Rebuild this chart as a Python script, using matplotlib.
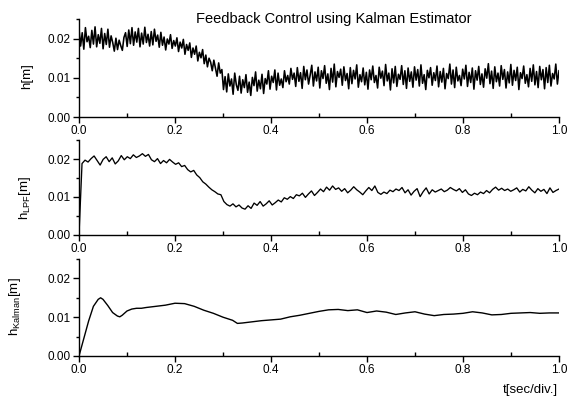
import numpy as np
import matplotlib
matplotlib.use('Agg')
import matplotlib.pyplot as plt
from matplotlib.ticker import MultipleLocator, FormatStrFormatter

plt.rcParams.update({'font.family': 'Liberation Sans', 'mathtext.fontset': 'custom',
                     'mathtext.rm': 'Liberation Sans', 'axes.linewidth': 1.0,
                     'xtick.labelsize': 8.5, 'ytick.labelsize': 8.5})

# measured height h (units of 1e-4 m), equally spaced on t in [0, 1]
h_raw = [224, 181, 215, 173, 228, 192, 206, 177, 221, 186, 230, 179, 210, 188, 226,
         174, 213, 185, 224, 178, 207, 190, 168, 201, 172, 196, 182, 170, 203, 215,
         180, 222, 187, 228, 183, 217, 191, 226, 179, 214, 186, 229, 190, 211, 181,
         218, 184, 224, 193, 209, 178, 216, 183, 204, 171, 199, 186, 210, 175, 195,
         181, 202, 167, 191, 176, 198, 160, 185, 170, 189, 152, 176, 160, 181, 143,
         165, 151, 172, 136, 158, 128, 150, 140, 118, 145, 125, 104, 138, 112, 121,
         70, 103, 64, 110, 79, 97, 58, 112, 82, 68, 104, 61, 95, 75, 108,
         63, 89, 55, 101, 80, 115, 66, 94, 72, 109, 60, 98, 84, 118, 71,
         104, 88, 120, 69, 112, 81, 97, 75, 118, 90, 106, 84, 124, 96, 112,
         78, 126, 91, 113, 73, 129, 95, 120, 84, 107, 132, 79, 115, 92, 127,
         74, 118, 98, 131, 86, 110, 70, 124, 89, 135, 77, 116, 101, 122, 81,
         128, 93, 111, 72, 126, 85, 119, 97, 133, 76, 108, 90, 125, 82, 114,
         71, 120, 95, 130, 88, 106, 74, 127, 99, 117, 80, 134, 92, 112, 69,
         123, 87, 129, 78, 109, 96, 131, 83, 118, 73, 125, 91, 115, 76, 128,
         94, 121, 79, 133, 86, 108, 70, 119, 100, 126, 81, 113, 93, 130, 77,
         116, 89, 124, 72, 111, 98, 135, 84, 120, 75, 127, 92, 106, 80, 122,
         97, 132, 78, 114, 88, 125, 71, 118, 94, 129, 83, 110, 76, 123, 99,
         136, 85, 117, 73, 128, 90, 112, 79, 131, 96, 121, 74, 115, 87, 134,
         81, 119, 93, 127, 70, 113, 98, 130, 86, 108, 77, 124, 91, 133, 82,
         116, 75, 129, 95, 121, 72, 126, 88, 132, 79, 111, 97, 135, 84, 118]

# low pass filtered height (1e-4 m)
h_lpf = [0,
         188, 197, 192, 201, 208, 196, 184, 199, 206, 193, 203, 187, 195, 209, 198,
         206, 201, 211, 204, 208, 214, 207,
         212, 198, 193, 201, 188, 196, 190, 199,
         192, 186, 190, 180, 183, 172,
         166, 170, 158, 151, 140, 134, 126, 119, 114, 108,
         106, 88,
         80, 76, 82, 74, 79, 71, 68, 77, 70, 84, 78, 88, 76, 82, 90, 79,
         85, 92, 87, 98, 94, 101, 96, 106,
         103, 110, 99, 108, 116, 104, 112, 121, 114, 126,
         118, 129, 120, 124, 115, 122, 111, 118, 127, 119,
         113, 106, 116, 125, 117, 129, 112, 107, 113, 109,
         118, 114, 121, 117, 125, 111, 119, 105, 115, 122,
         101, 114, 124, 108, 119, 113, 117, 121, 114, 118,
         125, 120, 116, 122, 112, 119, 108, 104, 110, 106,
         113, 109, 117, 111, 120, 126, 118, 123, 117, 121,
         115, 119, 124, 113, 120, 116, 127, 118, 111, 122,
         115, 120, 109, 124, 112, 117, 121]

# Kalman estimate (1e-4 m)
t_kal = [0, 0.01, 0.02, 0.03, 0.04, 0.045, 0.05, 0.06, 0.07, 0.08,
         0.085, 0.09, 0.1, 0.11, 0.12, 0.13, 0.14, 0.16, 0.18, 0.2,
         0.22, 0.24, 0.26, 0.28, 0.3, 0.32, 0.33, 0.34, 0.36, 0.38,
         0.4, 0.42, 0.44, 0.46, 0.48, 0.5, 0.52, 0.54, 0.56, 0.58,
         0.6, 0.62, 0.64, 0.66, 0.68, 0.7, 0.72, 0.74, 0.76, 0.78,
         0.8, 0.82, 0.84, 0.86, 0.88, 0.9, 0.92, 0.94, 0.96, 0.98, 1.0]
h_kal = [0, 45, 90, 128, 146, 150, 146, 130, 112, 103,
         101, 105, 116, 121, 123, 123, 125, 128, 131, 136,
         135, 128, 118, 110, 100, 92, 84, 85, 88, 91,
         93, 95, 101, 105, 110, 115, 119, 120, 117, 119,
         112, 116, 113, 107, 111, 114, 108, 104, 107, 108,
         110, 114, 111, 106, 107, 110, 111, 112, 110, 111, 111]

series = [(np.linspace(0, 1, len(h_raw)), np.array(h_raw) * 1e-4, 1.15),
          (np.linspace(0, 1, len(h_lpf)), np.array(h_lpf) * 1e-4, 0.95),
          (np.array(t_kal), np.array(h_kal) * 1e-4, 1.0)]
labels = ['h[m]', r'h$_{\mathrm{LPF}}$[m]', r'h$_{\mathrm{Kalman}}$[m]']
label_xy = [(-0.096, 0.42), (-0.096, 0.39), (-0.117, 0.51)]

W, H = 568, 403
boxes = [(19, 117), (140, 235), (259, 356)]   # top, bottom in pixels
fig = plt.figure(figsize=(W / 100, H / 100), dpi=100)

for (top, bot), (t, y, lw), lab, (lx, ly) in zip(boxes, series, labels, label_xy):
    ax = fig.add_axes([79 / W, 1 - bot / H, 480 / W, (bot - top) / H])
    ax.plot(t, y, 'k-', lw=lw)
    ax.set_xlim(0, 1)
    ax.set_ylim(0, 0.025)
    for s in ['top', 'right']:
        ax.spines[s].set_visible(False)
    ax.xaxis.set_major_locator(MultipleLocator(0.2))
    ax.xaxis.set_minor_locator(MultipleLocator(0.1))
    ax.xaxis.set_major_formatter(FormatStrFormatter('%.1f'))
    ax.yaxis.set_major_locator(MultipleLocator(0.01))
    ax.yaxis.set_minor_locator(MultipleLocator(0.005))
    ax.yaxis.set_major_formatter(FormatStrFormatter('%.2f'))
    ax.tick_params(axis='x', which='major', direction='out', length=4, width=1, pad=2)
    ax.tick_params(axis='x', which='minor', direction='in', length=3, width=1)
    ax.tick_params(axis='y', which='major', direction='out', length=4, width=1, pad=2)
    ax.tick_params(axis='y', which='minor', direction='out', length=2.5, width=1)
    ax.set_ylabel(lab, fontsize=9.5)
    ax.yaxis.set_label_coords(lx, ly)

fig.text(334 / W, 1 - 19 / H, 'Feedback Control using Kalman Estimator',
         ha='center', va='center', fontsize=10.5)
fig.text(558 / W, 1 - 390 / H, 't[sec/div.]', ha='right', va='center', fontsize=9.5)

fig.savefig('out.png', dpi=100)
